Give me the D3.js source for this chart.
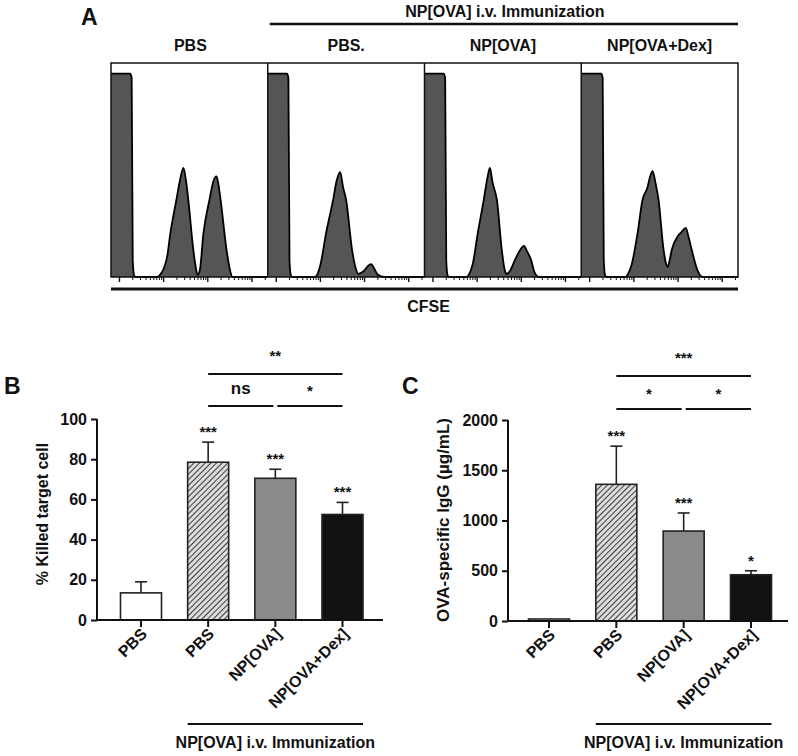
<!DOCTYPE html>
<html>
<head>
<meta charset="utf-8">
<script src="https://cdn.jsdelivr.net/npm/d3@7"></script>
<style>
  html, body { margin: 0; padding: 0; background: #fff; }
  svg { display: block; font-family: "Liberation Sans", Arial, sans-serif; }
  text { font-weight: bold; fill: #111; }
</style>
</head>
<body>
<svg id="chart" width="798" height="756"></svg>
<script>
// ---------------- DATA ----------------
// Panel A: CFSE histograms (channel 0-1024, % of max count)
const histTitles = ["PBS", "PBS.", "NP[OVA]", "NP[OVA+Dex]"];
const histPBS = [[0,95],[125,95],[135,93],[142,8],[150,1],[158,0],[300,0],[320,1],[345,4],[368,10],[387,20],[427,36],[450,45],[473,51],[490,45],[505,36],[538,12.6],[555,4],[565,1],[580,3],[604,20.5],[643,36],[670,45],[689,47],[700,44],[716,36],[755,12.6],[775,4],[794,0],[1024,0]];
const histImmPBS = [[0,95],[125,95],[135,93],[142,8],[150,1],[158,0],[305,0],[322,1],[345,6],[381,20.5],[427,36],[450,45],[473,49],[492,42],[512,36],[551,12.6],[575,4],[591,1.5],[630,3],[660,5.5],[676,6],[695,4],[720,1],[761,0],[1024,0]];
const histNPOVA = [[0,95],[125,95],[135,93],[142,8],[150,1],[158,0],[275,0],[289,1],[315,6],[348,20.5],[387,36],[410,46],[427,51],[445,44],[473,36],[505,12.6],[525,3],[538,1.4],[560,3],[591,8],[620,12],[650,14.5],[670,12],[696,8],[720,2],[748,0],[1024,0]];
const histNPOVADex = [[0,95],[130,95],[140,93],[147,8],[155,1],[163,0],[290,0],[302,1],[330,6],[368,20.5],[400,36],[433,42],[450,47],[466,49.5],[485,44],[505,36],[538,12.6],[555,6],[565,4.7],[575,7],[591,12.6],[630,19],[655,21],[683,23],[700,19],[722,12.6],[760,3],[794,0],[1024,0]];
const histograms = [histPBS, histImmPBS, histNPOVA, histNPOVADex];

// Panels B & C: groups
const groups = ["PBS", "PBS", "NP[OVA]", "NP[OVA+Dex]"];
const killedMean = [13.5, 78.5, 70.5, 52.5];
const killedErr  = [5.5, 10, 4.5, 6];
const killedStars = ["", "***", "***", "***"];
const killedTicks = [0, 20, 40, 60, 80, 100];
const killedSig = [
  {from: 1, to: 3, label: "**", level: 2},
  {from: 1, to: 2, label: "ns", level: 1},
  {from: 2, to: 3, label: "*", level: 1}
];

const iggMean = [20, 1360, 895, 460];
const iggErr  = [0, 380, 180, 40];
const iggStars = ["", "***", "***", "*"];
const iggTicks = [0, 500, 1000, 1500, 2000];
const iggSig = [
  {from: 1, to: 3, label: "***", level: 2},
  {from: 1, to: 2, label: "*", level: 1},
  {from: 2, to: 3, label: "*", level: 1}
];

const immunizationLabel = "NP[OVA] i.v. Immunization";

// ---------------- STYLE ----------------
const barFills = ["#ffffff", "url(#hatch)", "#8a8a8a", "#111111"];
const ink = "#111";

const svg = d3.select("#chart");
const defs = svg.append("defs");
const pat = defs.append("pattern").attr("id", "hatch")
  .attr("patternUnits", "userSpaceOnUse").attr("width", 4).attr("height", 4)
  .attr("patternTransform", "rotate(45)");
pat.append("rect").attr("width", 4).attr("height", 4).attr("fill", "#dcdcdc");
pat.append("line").attr("x1", 0).attr("y1", 0).attr("x2", 0).attr("y2", 4)
  .attr("stroke", "#2a2a2a").attr("stroke-width", 1.8);

// ---------------- PANEL A ----------------
const A = {left: 111, right: 738, top: 63, bottom: 277};
const panelW = (A.right - A.left) / histograms.length;

svg.append("text").attr("x", 81).attr("y", 25).style("font-size", "23px").text("A");

svg.append("line").attr("x1", A.left + panelW + 2).attr("x2", A.right)
  .attr("y1", 24).attr("y2", 24).attr("stroke", ink).attr("stroke-width", 2.5);
svg.append("text").attr("x", (A.left + panelW + A.right) / 2 + 2).attr("y", 17)
  .attr("text-anchor", "middle").style("font-size", "16px").text(immunizationLabel);

const yHist = d3.scaleLinear().domain([0, 100]).range([A.bottom, A.bottom - (A.bottom - A.top)]);

histograms.forEach((h, i) => {
  const x0 = A.left + i * panelW;
  const xh = d3.scaleLinear().domain([0, 1024]).range([x0, x0 + panelW]);
  const g = svg.append("g");
  const area = d3.area().x(d => xh(d[0])).y0(A.bottom).y1(d => yHist(d[1])).curve(d3.curveMonotoneX);
  const line = d3.line().x(d => xh(d[0])).y(d => yHist(d[1])).curve(d3.curveMonotoneX);
  g.append("path").datum(h).attr("d", area).attr("fill", "#555");
  g.append("path").datum(h).attr("d", line).attr("fill", "none").attr("stroke", "#000").attr("stroke-width", 1.8);

  // log axis ticks
  const xl = d3.scaleLog().domain([0.66, 2340]).range([x0, x0 + panelW]);
  const majors = [1, 10, 100, 1000];
  const minors = [];
  [1, 10, 100, 1000].forEach(m => { for (let k = 2; k <= 9; k++) { const v = m * k; if (v < 2340) minors.push(v); } });
  const ax = g.append("g").attr("transform", `translate(0,${A.bottom})`);
  ax.call(d3.axisBottom(xl).tickValues(majors).tickSize(5).tickFormat(""));
  ax.select(".domain").remove();
  ax.selectAll(".tick line").attr("stroke", ink).attr("stroke-width", 1.4);
  const ax2 = g.append("g").attr("transform", `translate(0,${A.bottom})`);
  ax2.call(d3.axisBottom(xl).tickValues(minors).tickSize(3).tickFormat(""));
  ax2.select(".domain").remove();
  ax2.selectAll(".tick line").attr("stroke", ink).attr("stroke-width", 1);

  svg.append("text").attr("x", x0 + panelW / 2 + (i === 0 ? 1 : 0)).attr("y", 51)
    .attr("text-anchor", "middle").style("font-size", "16px").text(histTitles[i]);
});
// frame & dividers
svg.append("rect").attr("x", A.left).attr("y", A.top).attr("width", A.right - A.left)
  .attr("height", A.bottom - A.top).attr("fill", "none").attr("stroke", ink).attr("stroke-width", 1.5);
for (let i = 1; i < histograms.length; i++) {
  const x = A.left + i * panelW;
  svg.append("line").attr("x1", x).attr("x2", x).attr("y1", A.top).attr("y2", A.bottom)
    .attr("stroke", ink).attr("stroke-width", 1.5);
}
svg.append("line").attr("x1", A.left).attr("x2", A.right).attr("y1", 289).attr("y2", 289)
  .attr("stroke", ink).attr("stroke-width", 3);
svg.append("text").attr("x", (A.left + A.right) / 2 + 4).attr("y", 312)
  .attr("text-anchor", "middle").style("font-size", "16px").text("CFSE");

// ---------------- BAR PANELS ----------------
function barPanel(cfg) {
  const g = svg.append("g");
  const y = d3.scaleLinear().domain([0, cfg.ymax]).range([cfg.y0, cfg.yTop]);
  const x = d3.scalePoint().domain(d3.range(groups.length)).range([cfg.xFirst, cfg.xLast]);
  const bw = 41;

  g.append("text").attr("x", cfg.letterX).attr("y", 394).style("font-size", "23px").text(cfg.letter);

  // y axis
  const yAx = g.append("g").attr("transform", `translate(${cfg.axisX},0)`)
    .call(d3.axisLeft(y).tickValues(cfg.ticks).tickSize(6).tickPadding(4).tickFormat(d3.format("d")));
  yAx.select(".domain").attr("stroke", ink).attr("stroke-width", 2).attr("d", `M0,${y(cfg.ymax)}V${cfg.y0}`);
  yAx.selectAll(".tick line").attr("stroke", ink).attr("stroke-width", 2);
  yAx.selectAll(".tick text").style("font-size", "16px").style("font-family", "Liberation Sans, Arial, sans-serif").attr("fill", ink).attr("font-weight", "bold");

  // y label
  g.append("text").attr("transform", `translate(${cfg.ylabX},${cfg.ylabY}) rotate(-90)`)
    .attr("text-anchor", "middle").style("font-size", cfg.ylabSize).text(cfg.ylabel);

  // bars
  g.selectAll("rect.bar").data(cfg.mean).join("rect").attr("class", "bar")
    .attr("x", (d, i) => x(i) - bw / 2).attr("width", bw)
    .attr("y", d => y(d)).attr("height", d => cfg.y0 - y(d))
    .attr("fill", (d, i) => barFills[i]).attr("stroke", "#222").attr("stroke-width", 1.6);

  // error bars
  cfg.mean.forEach((m, i) => {
    if (cfg.err[i] <= 0) return;
    const xt = x(i), yt = y(m + cfg.err[i]);
    g.append("line").attr("x1", xt).attr("x2", xt).attr("y1", y(m)).attr("y2", yt).attr("stroke", "#222").attr("stroke-width", 1.6);
    g.append("line").attr("x1", xt - 6).attr("x2", xt + 6).attr("y1", yt).attr("y2", yt).attr("stroke", "#222").attr("stroke-width", 1.6);
  });
  // stars
  cfg.stars.forEach((s, i) => {
    if (!s) return;
    g.append("text").attr("x", x(i)).attr("y", y(cfg.mean[i] + cfg.err[i]) - 5)
      .attr("text-anchor", "middle").style("font-size", "15px").text(s);
  });

  // x axis
  g.append("line").attr("x1", cfg.axisX).attr("x2", cfg.axisEnd).attr("y1", cfg.y0).attr("y2", cfg.y0)
    .attr("stroke", ink).attr("stroke-width", 2);
  groups.forEach((lab, i) => {
    g.append("line").attr("x1", x(i)).attr("x2", x(i)).attr("y1", cfg.y0).attr("y2", cfg.y0 + 7)
      .attr("stroke", ink).attr("stroke-width", 2);
    g.append("text").attr("transform", `translate(${x(i) + 7},${cfg.y0 + 15}) rotate(-45)`)
      .attr("text-anchor", "end").style("font-size", "16px").text(lab);
  });

  // significance brackets
  cfg.sig.forEach(s => {
    const ly = s.level === 2 ? cfg.sigTop : cfg.sigLow;
    const gap = s.level === 2 ? 0 : 2;
    const x1 = x(s.from) + (s.from === 1 ? 0 : gap), x2 = x(s.to) - (s.to === 3 ? 0 : gap);
    g.append("line").attr("x1", x1).attr("x2", x2).attr("y1", ly).attr("y2", ly)
      .attr("stroke", ink).attr("stroke-width", 2);
    const ty = s.level === 2 ? ly - 13 : ly - 10;
    const isStar = s.label.indexOf("*") >= 0;
    g.append("text").attr("x", (x1 + x2) / 2).attr("y", isStar ? ty : ly - 12)
      .attr("text-anchor", "middle").style("font-size", isStar ? "15px" : "17px").text(s.label);
  });

  // immunization group line
  g.append("line").attr("x1", x(1) - bw / 2).attr("x2", x(3) + bw / 2).attr("y1", 724).attr("y2", 724)
    .attr("stroke", ink).attr("stroke-width", 2);
  g.append("text").attr("x", x(2)).attr("y", 748).attr("text-anchor", "middle")
    .style("font-size", "16px").text(immunizationLabel);
}

barPanel({
  letter: "B", letterX: 4, ymax: 100, y0: 620, yTop: 419, xFirst: 141, xLast: 342.5,
  axisX: 97, axisEnd: 383, ticks: killedTicks, mean: killedMean, err: killedErr, stars: killedStars,
  ylabel: "% Killed target cell", ylabX: 48, ylabY: 514, ylabSize: "16px", sig: killedSig, sigTop: 374, sigLow: 406
});
barPanel({
  letter: "C", letterX: 402, ymax: 2000, y0: 621, yTop: 420, xFirst: 549, xLast: 751,
  axisX: 508, axisEnd: 788, ticks: iggTicks, mean: iggMean, err: iggErr, stars: iggStars,
  ylabel: "OVA-specific IgG (µg/mL)", ylabX: 449, ylabY: 520, ylabSize: "17px", sig: iggSig, sigTop: 376, sigLow: 409
});
</script>
</body>
</html>
